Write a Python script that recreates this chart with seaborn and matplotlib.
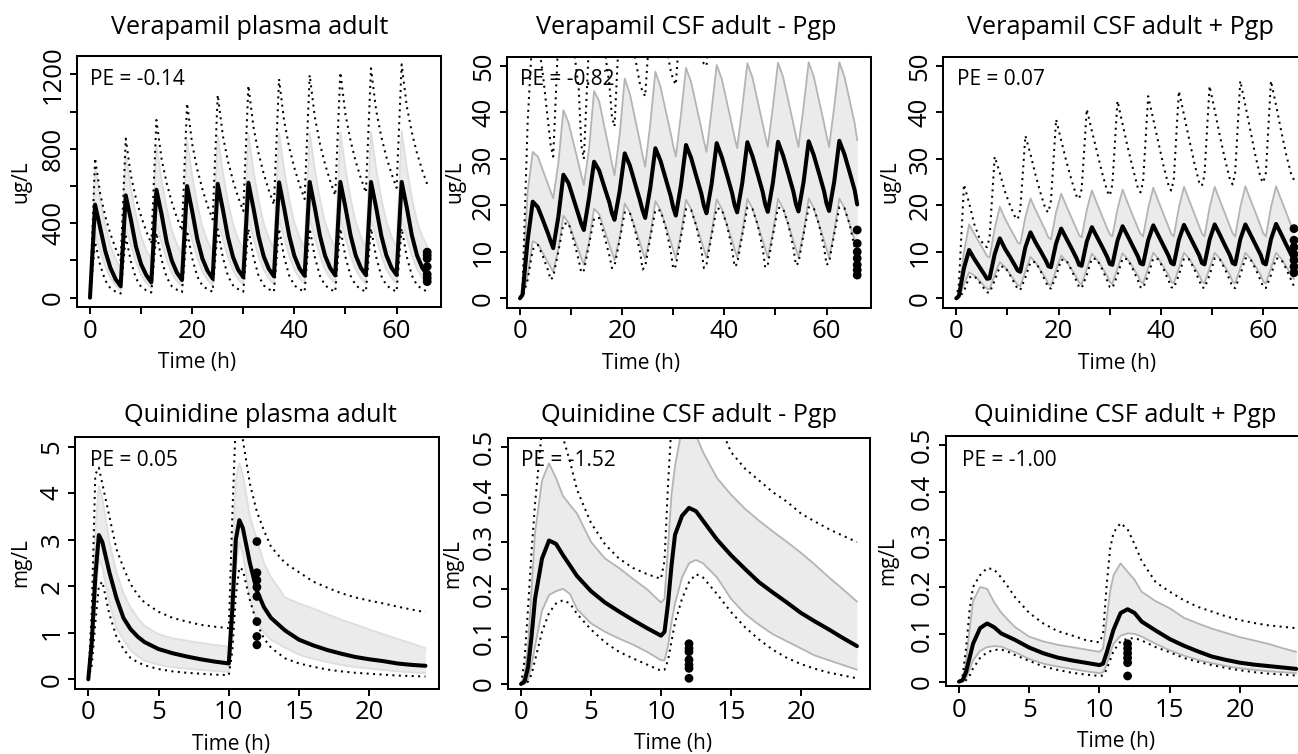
import matplotlib
matplotlib.use("Agg")
import matplotlib.pyplot as plt
import seaborn as sns

# ------------------------------------------------------------------
# Verapamil: dose every 6 h, 11 doses, simulated 0-66 h
# ------------------------------------------------------------------
vera_t_plasma = [0, 1, 2, 3, 4, 5, 6, 7, 8, 9, 10, 11, 12, 13, 14, 15, 16, 17,
                 18, 19, 20, 21, 22, 23, 24, 25, 26, 27, 28, 29, 30, 31, 32, 33,
                 34, 35, 36, 37, 38, 39, 40, 41, 42, 43, 44, 45, 46, 47, 48, 49,
                 50, 51, 52, 53, 54, 55, 56, 57, 58, 59, 60, 61, 62, 63, 64, 65, 66]

vera_plasma_median = [0, 500, 375, 250, 160, 100,
                      62, 550, 420, 275, 180, 122,
                      82, 580, 450, 300, 200, 135,
                      95, 600, 465, 315, 210, 145,
                      103, 612, 475, 325, 218, 150,
                      110, 618, 480, 330, 222, 155,
                      115, 620, 482, 332, 225, 158,
                      118, 622, 484, 334, 226, 160,
                      120, 622, 485, 335, 227, 161,
                      121, 622, 485, 335, 228, 162,
                      122, 622, 485, 335, 228, 162,
                      124]
vera_plasma_hi = [0, 704, 530, 388, 280, 209,
                  160, 767, 587, 441, 329, 256,
                  205, 820, 633, 481, 364, 288,
                  235, 847, 656, 501, 381, 304,
                  250, 870, 675, 516, 394, 315,
                  260, 880, 683, 523, 400, 320,
                  265, 885, 688, 527, 404, 324,
                  268, 888, 690, 530, 406, 326,
                  270, 890, 692, 532, 408, 328,
                  272, 892, 694, 534, 410, 330,
                  274, 895, 697, 536, 412, 332,
                  276]
vera_plasma_lo = [0, 340, 253, 169, 106, 66,
                  40, 375, 281, 191, 123, 80,
                  52, 395, 298, 204, 134, 89,
                  60, 408, 309, 213, 141, 96,
                  66, 416, 316, 219, 146, 100,
                  70, 420, 319, 222, 149, 102,
                  72, 422, 321, 224, 151, 104,
                  74, 422, 321, 224, 151, 105,
                  75, 422, 322, 225, 152, 106,
                  76, 422, 322, 226, 153, 107,
                  77, 422, 323, 226, 154, 108,
                  78]
vera_plasma_max = [0, 750, 558, 437, 343, 266,
                   200, 855, 657, 533, 437, 358,
                   290, 955, 747, 616, 515, 431,
                   360, 1045, 826, 689, 583, 495,
                   420, 1090, 871, 734, 628, 540,
                   465, 1140, 916, 775, 666, 577,
                   500, 1175, 949, 807, 698, 607,
                   530, 1197, 971, 828, 718, 628,
                   550, 1211, 985, 843, 733, 643,
                   565, 1233, 1008, 866, 757, 667,
                   590, 1254, 1029, 887, 777, 687,
                   610]
vera_plasma_min = [0, 300, 175, 92, 50, 33,
                   22, 330, 194, 104, 58, 40,
                   28, 350, 206, 110, 62, 43,
                   30, 360, 212, 114, 65, 45,
                   32, 368, 217, 117, 66, 46,
                   32, 370, 218, 117, 66, 46,
                   32, 371, 218, 118, 66, 46,
                   32, 372, 219, 118, 67, 46,
                   32, 372, 219, 118, 67, 46,
                   32, 373, 219, 118, 67, 47,
                   32, 373, 220, 119, 67, 47,
                   33]
vera_plasma_obs = [245, 228, 210, 167, 125, 105, 86]

vera_t_csf = [0, 0.5, 1.5, 2.5, 3.5, 4.5, 5.5,
              6, 6.5, 7.5, 8.5, 9.5, 10.5, 11.5,
              12, 12.5, 13.5, 14.5, 15.5, 16.5, 17.5,
              18, 18.5, 19.5, 20.5, 21.5, 22.5, 23.5,
              24, 24.5, 25.5, 26.5, 27.5, 28.5, 29.5,
              30, 30.5, 31.5, 32.5, 33.5, 34.5, 35.5,
              36, 36.5, 37.5, 38.5, 39.5, 40.5, 41.5,
              42, 42.5, 43.5, 44.5, 45.5, 46.5, 47.5,
              48, 48.5, 49.5, 50.5, 51.5, 52.5, 53.5,
              54, 54.5, 55.5, 56.5, 57.5, 58.5, 59.5,
              60, 60.5, 61.5, 62.5, 63.5, 64.5, 65.5,
              66]

# CSF without P-gp efflux
vera_csf_nopgp_median = [0, 0.8, 12.5, 20.8, 19.6, 16.8, 13.9,
                         12.3, 10.8, 17.5, 26.6, 24.8, 21.3, 17.8,
                         16.0, 14.7, 21.5, 29.4, 27.5, 24.0, 20.6,
                         18.3, 16.9, 23.0, 31.2, 28.6, 24.8, 21.0,
                         18.9, 17.3, 23.8, 32.3, 29.6, 25.8, 22.0,
                         19.5, 17.8, 24.3, 33.0, 30.2, 26.3, 22.5,
                         19.9, 18.3, 24.6, 33.4, 30.4, 26.6, 22.7,
                         20.1, 18.5, 24.8, 33.6, 30.6, 26.8, 22.9,
                         20.2, 18.6, 24.9, 33.7, 30.7, 26.9, 23.0,
                         20.3, 18.7, 25.0, 33.8, 30.8, 27.0, 23.1,
                         20.4, 18.8, 25.1, 33.9, 31.0, 27.2, 23.3,
                         20.2]
vera_csf_nopgp_hi = [0, 1.5, 23.0, 31.5, 30.5, 27.5, 24.5,
                     23.0, 21.5, 29.0, 40.5, 37.8, 33.3, 28.8,
                     26.5, 24.4, 32.0, 44.6, 42.4, 37.0, 31.8,
                     29.0, 26.5, 35.0, 47.3, 44.0, 38.8, 33.6,
                     30.7, 28.3, 37.5, 48.8, 45.5, 40.5, 35.5,
                     32.8, 30.5, 39.5, 49.6, 46.5, 41.5, 36.5,
                     33.8, 31.5, 40.5, 50.2, 47.2, 42.2, 37.2,
                     34.6, 32.3, 41.0, 50.6, 47.5, 42.5, 37.5,
                     35.0, 32.6, 41.2, 50.7, 47.6, 42.6, 37.6,
                     35.0, 32.6, 41.2, 50.8, 47.7, 42.7, 37.7,
                     35.0, 32.6, 41.2, 50.8, 47.7, 42.7, 37.7,
                     34.0]
vera_csf_nopgp_lo = [0, 0.3, 5.0, 12.3, 11.7, 9.7, 7.7,
                     6.7, 5.7, 10.5, 17.8, 16.2, 13.2, 10.2,
                     8.7, 7.2, 12.0, 19.3, 18.1, 14.8, 11.5,
                     9.9, 8.2, 13.0, 20.4, 18.5, 15.2, 11.9,
                     10.0, 8.5, 13.5, 20.9, 19.0, 15.6, 12.2,
                     10.4, 8.6, 13.8, 21.2, 19.1, 15.7, 12.3,
                     10.5, 8.7, 14.0, 21.3, 19.2, 15.8, 12.4,
                     10.6, 8.8, 14.1, 21.4, 19.3, 15.9, 12.4,
                     10.6, 8.8, 14.1, 21.4, 19.3, 15.9, 12.4,
                     10.6, 8.8, 14.1, 21.5, 19.4, 16.0, 12.5,
                     10.6, 8.8, 14.2, 21.5, 19.4, 16.0, 12.5,
                     10.6]
vera_csf_nopgp_max = [0, 2.0, 38.0, 58.0, 56.0, 48.0, 38.0,
                      33.0, 30.5, 56.0, 68.0, 62.0, 54.0, 45.0,
                      33.0, 30.0, 55.0, 70.0, 64.0, 54.0, 46.0,
                      39.0, 37.0, 60.0, 70.0, 62.0, 52.0, 46.0,
                      44.5, 43.5, 60.0, 70.0, 62.0, 55.0, 49.0,
                      47.0, 46.0, 62.0, 72.0, 64.0, 57.0, 51.5,
                      50.5, 50.0, 63.0, 72.0, 65.0, 58.5, 53.5,
                      52.5, 52.0, 64.0, 73.0, 66.0, 59.5, 54.5,
                      53.5, 53.0, 64.5, 73.0, 66.5, 60.0, 55.0,
                      54.0, 53.5, 65.0, 73.5, 67.0, 60.5, 55.5,
                      54.5, 54.0, 65.0, 73.5, 67.0, 61.0, 56.0,
                      55.0]
vera_csf_nopgp_min = [0, 0.2, 4.0, 10.5, 11.5, 9.0, 6.0,
                      4.0, 4.6, 10.0, 16.0, 16.2, 12.5, 8.2,
                      5.5, 6.0, 11.5, 17.2, 17.3, 13.5, 9.2,
                      6.5, 7.0, 12.5, 18.5, 18.4, 14.8, 10.0,
                      6.2, 6.8, 13.0, 19.0, 18.9, 15.3, 10.2,
                      6.3, 7.0, 13.2, 19.2, 19.0, 15.6, 10.5,
                      6.5, 7.2, 13.5, 19.4, 19.1, 15.8, 10.7,
                      6.8, 7.4, 13.6, 19.5, 19.2, 15.9, 10.8,
                      6.6, 7.2, 13.6, 19.5, 19.3, 16.0, 10.9,
                      7.1, 7.6, 13.8, 19.6, 19.4, 16.0, 11.0,
                      7.2, 7.7, 13.8, 19.6, 19.4, 16.0, 11.0,
                      7.5]
vera_csf_nopgp_obs = [14.7, 11.8, 10.0, 8.6, 7.2, 6.1, 5.0]

# CSF with P-gp efflux
vera_csf_pgp_median = [0, 0.5, 6.5, 10.4, 8.5, 6.8, 5.1,
                       4.2, 4.3, 9.5, 12.9, 10.7, 8.9, 7.0,
                       6.0, 5.7, 11.0, 14.2, 12.0, 10.1, 8.1,
                       6.9, 6.7, 11.8, 15.0, 12.9, 10.8, 8.6,
                       7.2, 7.0, 12.2, 15.3, 13.2, 11.1, 8.9,
                       7.4, 7.2, 12.4, 15.5, 13.4, 11.2, 9.0,
                       7.5, 7.3, 12.5, 15.7, 13.5, 11.3, 9.1,
                       7.6, 7.3, 12.6, 15.8, 13.6, 11.4, 9.2,
                       7.6, 7.3, 12.6, 15.9, 13.7, 11.4, 9.2,
                       7.6, 7.3, 12.7, 15.9, 13.7, 11.5, 9.3,
                       7.6, 7.3, 12.7, 16.0, 13.8, 11.5, 9.3,
                       8.1]
vera_csf_pgp_hi = [0, 0.8, 10.0, 15.9, 13.9, 12.0, 10.1,
                   9.1, 8.8, 15.0, 19.7, 17.2, 15.1, 13.1,
                   12.0, 11.7, 17.5, 21.5, 19.0, 16.7, 14.4,
                   13.1, 12.7, 18.5, 22.5, 19.9, 17.4, 14.9,
                   13.6, 13.1, 19.0, 23.2, 20.4, 17.7, 15.0,
                   13.8, 13.3, 19.2, 23.4, 20.5, 17.8, 15.1,
                   13.9, 13.3, 19.4, 23.8, 20.9, 18.1, 15.3,
                   13.9, 13.3, 19.5, 24.0, 21.1, 18.3, 15.4,
                   14.0, 13.3, 19.5, 24.0, 21.1, 18.3, 15.4,
                   14.0, 13.3, 19.6, 24.1, 21.2, 18.4, 15.5,
                   14.0, 13.3, 19.6, 24.1, 21.2, 18.4, 15.5,
                   14.3]
vera_csf_pgp_lo = [0, 0.2, 3.0, 5.6, 4.9, 3.8, 2.6,
                   2.1, 1.9, 5.0, 7.8, 6.7, 5.2, 3.6,
                   2.9, 2.6, 5.8, 8.9, 7.7, 6.0, 4.2,
                   3.1, 2.7, 6.1, 9.2, 8.0, 6.3, 4.5,
                   3.4, 3.0, 6.3, 9.6, 8.3, 6.6, 4.8,
                   3.5, 3.1, 6.4, 9.7, 8.4, 6.7, 4.9,
                   3.6, 3.2, 6.5, 9.8, 8.5, 6.8, 5.0,
                   3.6, 3.2, 6.5, 9.8, 8.5, 6.8, 5.0,
                   3.6, 3.2, 6.5, 9.8, 8.5, 6.8, 5.0,
                   3.6, 3.2, 6.5, 9.8, 8.5, 6.8, 5.0,
                   3.6, 3.2, 6.5, 9.8, 8.5, 6.8, 5.0,
                   4.1]
vera_csf_pgp_max = [0, 3.0, 24.5, 20.5, 16.0, 13.0, 11.3,
                    11.0, 13.0, 30.5, 27.0, 23.0, 20.0, 17.5,
                    17.0, 19.0, 35.0, 31.0, 26.5, 22.5, 19.0,
                    18.5, 21.0, 38.5, 34.0, 29.5, 25.5, 22.0,
                    21.4, 23.5, 40.7, 36.0, 31.5, 27.0, 23.0,
                    22.1, 24.5, 42.5, 37.5, 32.5, 28.0, 23.7,
                    22.8, 25.0, 43.5, 38.5, 33.5, 28.5, 24.2,
                    23.2, 25.5, 44.6, 39.5, 34.3, 29.2, 24.8,
                    24.2, 26.5, 45.7, 40.5, 35.0, 30.0, 25.5,
                    24.5, 27.0, 46.8, 41.5, 36.0, 30.5, 25.8,
                    24.9, 27.0, 46.8, 41.5, 36.0, 30.8, 26.5,
                    25.5]
vera_csf_pgp_min = [0, 0.1, 1.5, 4.5, 4.8, 3.5, 2.0,
                    1.3, 1.2, 3.8, 6.8, 6.8, 5.0, 3.0,
                    2.0, 1.8, 4.5, 7.8, 7.8, 5.8, 3.5,
                    2.3, 2.1, 4.8, 8.3, 8.2, 6.1, 3.7,
                    2.4, 2.2, 5.0, 8.6, 8.4, 6.3, 3.8,
                    2.4, 2.2, 5.0, 8.6, 8.4, 6.3, 3.8,
                    2.4, 2.2, 5.0, 8.6, 8.4, 6.3, 3.8,
                    2.4, 2.2, 5.0, 8.6, 8.4, 6.3, 3.8,
                    2.4, 2.2, 5.0, 8.6, 8.4, 6.3, 3.8,
                    2.4, 2.2, 5.0, 8.6, 8.4, 6.3, 3.8,
                    2.4, 2.2, 5.0, 8.6, 8.4, 6.3, 3.8,
                    2.6]
vera_csf_pgp_obs = [15.0, 12.5, 11.0, 9.5, 8.2, 6.8, 5.5]

# ------------------------------------------------------------------
# Quinidine: doses at 0 h and 10 h, simulated 0-24 h
# ------------------------------------------------------------------
quin_t = [0, 0.25, 0.5, 0.75, 1, 1.5, 2, 2.5, 3, 3.5,
          4, 5, 6, 7, 8, 9, 10,
          10.25, 10.5, 10.75, 11, 11.5, 12, 12.5, 13,
          14, 15, 16, 17, 18, 19, 20, 21, 22, 23, 24]

quin_plasma_median = [0, 0.8, 2.2, 3.1, 2.95, 2.3, 1.75, 1.32, 1.08, 0.92,
                      0.80, 0.65, 0.56, 0.49, 0.43, 0.38, 0.34,
                      1.5, 3.0, 3.42, 3.25, 2.5, 1.9, 1.55, 1.32,
                      1.05, 0.85, 0.73, 0.63, 0.55, 0.48, 0.43, 0.39, 0.34, 0.31, 0.29]
quin_plasma_hi = [0, 1.2, 3.2, 4.15, 3.9, 2.95, 2.3, 1.85, 1.55, 1.32,
                  1.15, 0.97, 0.88, 0.83, 0.78, 0.74, 0.70,
                  2.5, 4.3, 4.64, 4.4, 3.5, 3.0, 2.5, 2.2,
                  1.76, 1.63, 1.52, 1.40, 1.28, 1.18, 1.07, 0.97, 0.87, 0.77, 0.67]
quin_plasma_lo = [0, 0.5, 1.7, 2.6, 2.4, 1.65, 1.1, 0.85, 0.62, 0.5,
                  0.40, 0.31, 0.26, 0.23, 0.20, 0.18, 0.16,
                  0.9, 2.4, 2.95, 2.7, 1.75, 1.25, 1.0, 0.85,
                  0.68, 0.53, 0.44, 0.37, 0.31, 0.26, 0.23, 0.20, 0.17, 0.15, 0.13]
quin_plasma_max = [0, 1.5, 4.4, 4.55, 4.2, 3.5, 2.8, 2.4, 2.05, 1.82,
                   1.65, 1.45, 1.32, 1.24, 1.17, 1.13, 1.10,
                   3.5, 5.6, 5.8, 5.15, 4.2, 3.6, 3.2, 2.85,
                   2.5, 2.3, 2.1, 1.97, 1.85, 1.76, 1.69, 1.63, 1.56, 1.50, 1.44]
quin_plasma_min = [0, 0.3, 1.2, 2.0, 2.1, 1.4, 0.92, 0.65, 0.46, 0.37,
                   0.30, 0.22, 0.17, 0.14, 0.12, 0.10, 0.09,
                   0.6, 1.8, 2.4, 2.35, 1.7, 1.2, 0.88, 0.68,
                   0.45, 0.34, 0.27, 0.21, 0.17, 0.14, 0.12, 0.10, 0.08, 0.07, 0.06]
quin_plasma_obs = [2.96, 2.29, 2.13, 1.98, 1.78, 1.24, 0.92, 0.74]

quin_csf_nopgp_median = [0, 0.005, 0.035, 0.10, 0.18, 0.265, 0.303, 0.296, 0.272, 0.25,
                         0.228, 0.196, 0.172, 0.153, 0.135, 0.118, 0.102,
                         0.11, 0.17, 0.25, 0.315, 0.355, 0.372, 0.365, 0.345,
                         0.305, 0.272, 0.243, 0.215, 0.193, 0.172, 0.15, 0.132, 0.115, 0.097, 0.08]
quin_csf_nopgp_hi = [0, 0.02, 0.08, 0.20, 0.32, 0.43, 0.466, 0.435, 0.397, 0.378,
                     0.36, 0.30, 0.265, 0.245, 0.222, 0.20, 0.172,
                     0.18, 0.29, 0.40, 0.46, 0.54, 0.56, 0.525, 0.49,
                     0.435, 0.40, 0.37, 0.345, 0.322, 0.30, 0.277, 0.252, 0.225, 0.20, 0.174]
quin_csf_nopgp_lo = [0, 0.0, 0.01, 0.04, 0.08, 0.155, 0.188, 0.196, 0.201, 0.19,
                     0.158, 0.128, 0.11, 0.096, 0.083, 0.068, 0.05,
                     0.05, 0.08, 0.13, 0.17, 0.225, 0.255, 0.262, 0.255,
                     0.225, 0.18, 0.148, 0.125, 0.105, 0.09, 0.075, 0.06, 0.05, 0.04, 0.03]
quin_csf_nopgp_max = [0, 0.05, 0.16, 0.28, 0.38, 0.54, 0.60, 0.60, 0.52, 0.47,
                      0.41, 0.34, 0.295, 0.265, 0.245, 0.232, 0.222,
                      0.26, 0.42, 0.55, 0.66, 0.74, 0.76, 0.74, 0.68,
                      0.56, 0.49, 0.455, 0.43, 0.405, 0.385, 0.36, 0.343, 0.327, 0.313, 0.30]
quin_csf_nopgp_min = [0, 0, 0.005, 0.02, 0.05, 0.11, 0.15, 0.17, 0.177, 0.17,
                      0.148, 0.115, 0.088, 0.068, 0.054, 0.041, 0.028,
                      0.03, 0.05, 0.09, 0.13, 0.18, 0.215, 0.232, 0.225,
                      0.19, 0.152, 0.12, 0.094, 0.072, 0.055, 0.042, 0.032, 0.024, 0.018, 0.012]
quin_csf_nopgp_obs = [0.085, 0.075, 0.068, 0.051, 0.040, 0.033, 0.012]

quin_csf_pgp_median = [0, 0.003, 0.02, 0.05, 0.08, 0.113, 0.123, 0.115, 0.102, 0.095,
                       0.088, 0.072, 0.06, 0.051, 0.045, 0.04, 0.035,
                       0.038, 0.06, 0.085, 0.11, 0.145, 0.153, 0.145, 0.127,
                       0.108, 0.09, 0.076, 0.064, 0.053, 0.046, 0.04, 0.036, 0.033, 0.03, 0.027]
quin_csf_pgp_hi = [0, 0.005, 0.04, 0.11, 0.17, 0.2, 0.196, 0.168, 0.146, 0.13,
                   0.115, 0.095, 0.085, 0.078, 0.073, 0.068, 0.063,
                   0.07, 0.13, 0.19, 0.225, 0.25, 0.232, 0.215, 0.19,
                   0.17, 0.155, 0.135, 0.123, 0.112, 0.103, 0.094, 0.087, 0.08, 0.071, 0.063]
quin_csf_pgp_lo = [0, 0, 0.008, 0.025, 0.045, 0.065, 0.073, 0.075, 0.074, 0.068,
                   0.062, 0.048, 0.038, 0.032, 0.027, 0.022, 0.018,
                   0.02, 0.035, 0.06, 0.08, 0.097, 0.102, 0.101, 0.095,
                   0.08, 0.066, 0.055, 0.046, 0.039, 0.033, 0.028, 0.025, 0.022, 0.02, 0.018]
quin_csf_pgp_max = [0, 0.01, 0.07, 0.15, 0.2, 0.225, 0.24, 0.237, 0.22, 0.2,
                    0.178, 0.145, 0.123, 0.107, 0.098, 0.088, 0.083,
                    0.1, 0.2, 0.28, 0.315, 0.335, 0.322, 0.29, 0.255,
                    0.21, 0.19, 0.172, 0.158, 0.148, 0.138, 0.13, 0.124, 0.119, 0.116, 0.113]
quin_csf_pgp_min = [0, 0, 0.003, 0.012, 0.028, 0.05, 0.062, 0.067, 0.068, 0.063,
                    0.056, 0.044, 0.032, 0.025, 0.019, 0.015, 0.012,
                    0.013, 0.025, 0.045, 0.065, 0.085, 0.091, 0.092, 0.087,
                    0.073, 0.062, 0.05, 0.042, 0.035, 0.029, 0.024, 0.02, 0.017, 0.015, 0.013]
quin_csf_pgp_obs = [0.080, 0.070, 0.060, 0.050, 0.040, 0.012]

titles = ["Verapamil plasma adult", "Verapamil CSF adult - Pgp", "Verapamil CSF adult + Pgp",
          "Quinidine plasma adult", "Quinidine CSF adult - Pgp", "Quinidine CSF adult + Pgp"]
pe_labels = ["PE = -0.14", "PE = -0.82", "PE = 0.07", "PE = 0.05", "PE = -1.52", "PE = -1.00"]
units = ["ug/L", "ug/L", "ug/L", "mg/L", "mg/L", "mg/L"]

vera_xticks = [0, 10, 20, 30, 40, 50, 60]
vera_xticklabels = ["0", "", "20", "", "40", "", "60"]
quin_xticks = [0, 5, 10, 15, 20]
quin_xticklabels = ["0", "5", "10", "15", "20"]
plasma_v_yticks = [0, 200, 400, 600, 800, 1000, 1200]
plasma_v_yticklabels = ["0", "", "400", "", "800", "", "1200"]
csf_v_yticks = [0, 10, 20, 30, 40, 50]
csf_v_yticklabels = ["0", "10", "20", "30", "40", "50"]
plasma_q_yticks = [0, 1, 2, 3, 4, 5]
plasma_q_yticklabels = ["0", "1", "2", "3", "4", "5"]
csf_q_yticks = [0, 0.1, 0.2, 0.3, 0.4, 0.5]
csf_q_yticklabels = ["0", "0.1", "0.2", "0.3", "0.4", "0.5"]

# ------------------------------------------------------------------
# figure layout (pixel geometry of the 1298 x 754 canvas)
# ------------------------------------------------------------------
W, H = 1298, 754
sns.set_theme(style="white")
plt.rcParams["font.family"] = ["Open Sans", "DejaVu Sans"]

BAND = "#EBEBEB"
EDGE = "#B4B4B4"
PLASMA_EDGE = "#DEDEDE"
DOTS = (0, (1, 2.2))

panels = [
    dict(t=vera_t_plasma, med=vera_plasma_median, lo=vera_plasma_lo, hi=vera_plasma_hi,
         mn=vera_plasma_min, mx=vera_plasma_max, obs_t=66, obs=vera_plasma_obs,
         box=(76.5, 55.8, 440.7, 307.0), xlim=(-2.64, 68.64), ylim=(-50, 1300),
         xt=vera_xticks, xtl=vera_xticklabels, yt=plasma_v_yticks, ytl=plasma_v_yticklabels,
         edge=PLASMA_EDGE, title_xy=(249.7, 34.3), pe_xy=(90.5, 85.0), ylab_x=31.5,
         xlab_x=197.0),
    dict(t=vera_t_csf, med=vera_csf_nopgp_median, lo=vera_csf_nopgp_lo, hi=vera_csf_nopgp_hi,
         mn=vera_csf_nopgp_min, mx=vera_csf_nopgp_max, obs_t=66, obs=vera_csf_nopgp_obs,
         box=(506.5, 56.7, 870.7, 307.6), xlim=(-2.64, 68.64), ylim=(-2, 52),
         xt=vera_xticks, xtl=vera_xticklabels, yt=csf_v_yticks, ytl=csf_v_yticklabels,
         edge=EDGE, title_xy=(686.7, 34.3), pe_xy=(520.5, 85.0), ylab_x=465.0,
         xlab_x=641.0),
    dict(t=vera_t_csf, med=vera_csf_pgp_median, lo=vera_csf_pgp_lo, hi=vera_csf_pgp_hi,
         mn=vera_csf_pgp_min, mx=vera_csf_pgp_max, obs_t=66, obs=vera_csf_pgp_obs,
         box=(942.8, 56.7, 1307.5, 307.6), xlim=(-2.64, 68.64), ylim=(-2, 52),
         xt=vera_xticks, xtl=vera_xticklabels, yt=csf_v_yticks, ytl=csf_v_yticklabels,
         edge=EDGE, title_xy=(1120.0, 34.3), pe_xy=(956.7, 85.0), ylab_x=900.5,
         xlab_x=1117.0),
    dict(t=quin_t, med=quin_plasma_median, lo=quin_plasma_lo, hi=quin_plasma_hi,
         mn=quin_plasma_min, mx=quin_plasma_max, obs_t=12, obs=quin_plasma_obs,
         box=(74.8, 437.3, 439.0, 688.6), xlim=(-0.96, 24.96), ylim=(-0.2, 5.2),
         xt=quin_xticks, xtl=quin_xticklabels, yt=plasma_q_yticks, ytl=plasma_q_yticklabels,
         edge=PLASMA_EDGE, title_xy=(260.8, 422.0), pe_xy=(90.5, 466.3), ylab_x=31.5,
         xlab_x=230.8),
    dict(t=quin_t, med=quin_csf_nopgp_median, lo=quin_csf_nopgp_lo, hi=quin_csf_nopgp_hi,
         mn=quin_csf_nopgp_min, mx=quin_csf_nopgp_max, obs_t=12, obs=quin_csf_nopgp_obs,
         box=(507.6, 438.0, 870.4, 688.5), xlim=(-0.96, 24.96), ylim=(-0.0096, 0.5196),
         xt=quin_xticks, xtl=quin_xticklabels, yt=csf_q_yticks, ytl=csf_q_yticklabels,
         edge=EDGE, title_xy=(688.8, 422.0), pe_xy=(520.7, 466.3), ylab_x=463.3,
         xlab_x=673.3),
    dict(t=quin_t, med=quin_csf_pgp_median, lo=quin_csf_pgp_lo, hi=quin_csf_pgp_hi,
         mn=quin_csf_pgp_min, mx=quin_csf_pgp_max, obs_t=12, obs=quin_csf_pgp_obs,
         box=(945.5, 435.7, 1309.7, 686.2), xlim=(-0.96, 24.96), ylim=(-0.0096, 0.5196),
         xt=quin_xticks, xtl=quin_xticklabels, yt=csf_q_yticks, ytl=csf_q_yticklabels,
         edge=EDGE, title_xy=(1124.7, 421.5), pe_xy=(961.7, 466.0), ylab_x=898.3,
         xlab_x=1115.8),
]

fig = plt.figure(figsize=(W / 100, H / 100), dpi=100)
fig.patch.set_facecolor("white")

TITLE_FS = 18.2
TICK_FS = 18.5
LABEL_FS = 15.0
PE_FS = 15.0

for i, p in enumerate(panels):
    l, t, r, b = p["box"]
    ax = fig.add_axes([l / W, 1 - b / H, (r - l) / W, (b - t) / H])
    ax.set_facecolor("white")

    # 90% band
    ax.fill_between(p["t"], p["lo"], p["hi"], color=BAND, lw=0, zorder=1)
    sns.lineplot(x=p["t"], y=p["hi"], ax=ax, color=p["edge"], lw=1.3,
                 estimator=None, zorder=2)
    sns.lineplot(x=p["t"], y=p["lo"], ax=ax, color=p["edge"], lw=1.3,
                 estimator=None, zorder=2)
    # min / max of the simulated population
    sns.lineplot(x=p["t"], y=p["mx"], ax=ax, color="black", lw=1.45,
                 linestyle=DOTS, estimator=None, zorder=3)
    sns.lineplot(x=p["t"], y=p["mn"], ax=ax, color="black", lw=1.45,
                 linestyle=DOTS, estimator=None, zorder=3)
    # median profile
    sns.lineplot(x=p["t"], y=p["med"], ax=ax, color="black", lw=2.9,
                 estimator=None, zorder=4)
    # observed concentrations
    sns.scatterplot(x=[p["obs_t"]] * len(p["obs"]), y=p["obs"], ax=ax,
                    color="black", s=40, edgecolor="none", zorder=5)

    ax.set_xlim(*p["xlim"])
    ax.set_ylim(*p["ylim"])
    ax.set_xticks(p["xt"])
    ax.set_xticklabels(p["xtl"])
    ax.set_yticks(p["yt"])
    ax.set_yticklabels(p["ytl"])
    ax.tick_params(axis="both", which="major", direction="out", length=5.0,
                   width=1.4, color="black", labelsize=TICK_FS, labelcolor="black",
                   bottom=True, left=True, top=False, right=False)
    ax.tick_params(axis="x", pad=3.5)
    ax.tick_params(axis="y", pad=2.5)
    for lab in ax.get_yticklabels():
        lab.set_rotation(90)
        lab.set_va("center")
        lab.set_ha("right")
    for sp in ax.spines.values():
        sp.set_visible(True)
        sp.set_color("black")
        sp.set_linewidth(1.45)

    ax.set_xlabel("Time (h)", fontsize=LABEL_FS, color="black")
    ax.set_ylabel(units[i], fontsize=LABEL_FS, color="black")
    ax.xaxis.set_label_coords((p["xlab_x"] - l) / (r - l), -45.0 / (b - t))
    ax.yaxis.set_label_coords((p["ylab_x"] - l) / (r - l), 0.5)

    ax.text(p["pe_xy"][0], H - p["pe_xy"][1], pe_labels[i], transform=None,
            fontsize=PE_FS, ha="left", va="baseline", color="black", zorder=6)
    fig.text(p["title_xy"][0] / W, 1 - p["title_xy"][1] / H, titles[i],
             fontsize=TITLE_FS, ha="center", va="baseline", color="black")

fig.savefig("out.png", dpi=100, facecolor="white")
